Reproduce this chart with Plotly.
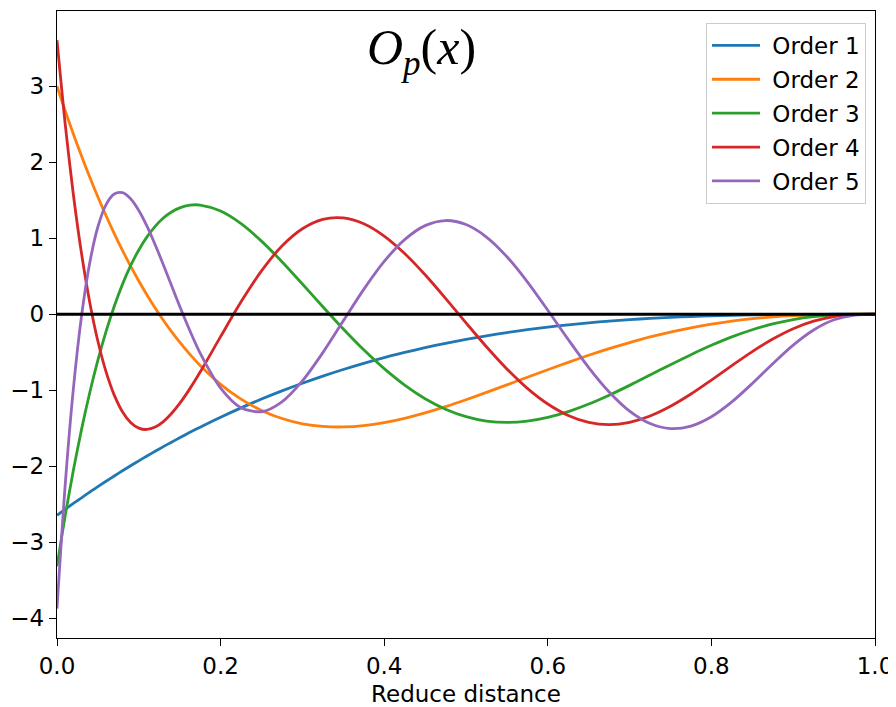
import plotly.graph_objects as go

# Reduced distance samples
x_vals = [0.0, 0.01, 0.02, 0.03, 0.04, 0.05, 0.06, 0.07, 0.08, 0.09, 0.1,
          0.11, 0.12, 0.13, 0.14, 0.15, 0.1625, 0.175, 0.2, 0.225, 0.25, 0.275, 0.3, 0.325, 0.35,
          0.375, 0.4, 0.425, 0.45, 0.475, 0.5, 0.525, 0.55, 0.575, 0.6,
          0.625, 0.65, 0.675, 0.7, 0.725, 0.75, 0.775, 0.8, 0.825, 0.85,
          0.875, 0.9, 0.925, 0.95, 0.975, 1.0]

order1 = [-2.646, -2.567, -2.490, -2.415, -2.341, -2.268, -2.198, -2.128, -2.060, -1.994, -1.929,
          -1.865, -1.803, -1.742, -1.683, -1.625, -1.554, -1.486, -1.355, -1.232, -1.116, -1.008, -0.908, -0.814, -0.727,
          -0.646, -0.571, -0.503, -0.440, -0.383, -0.331, -0.284, -0.241, -0.203, -0.169,
          -0.140, -0.113, -0.091, -0.071, -0.055, -0.041, -0.030, -0.021, -0.014, -0.009,
          -0.005, -0.003, -0.001, -0.0003, 0.0, 0.0]

order2 = [3.000, 2.678, 2.372, 2.081, 1.805, 1.543, 1.296, 1.062, 0.841, 0.633, 0.437,
          0.254, 0.082, -0.079, -0.229, -0.368, -0.529, -0.674, -0.922, -1.117, -1.266, -1.372, -1.441, -1.476, -1.483,
          -1.465, -1.426, -1.369, -1.298, -1.216, -1.125, -1.029, -0.929, -0.829, -0.730,
          -0.633, -0.540, -0.453, -0.373, -0.299, -0.234, -0.178, -0.130, -0.090, -0.059,
          -0.035, -0.019, -0.008, -0.002, -0.0003, 0.0]

order3 = [-3.317, -2.653, -2.054, -1.515, -1.033, -0.604, -0.226, 0.105, 0.393, 0.639, 0.846,
          1.018, 1.157, 1.266, 1.346, 1.400, 1.435, 1.437, 1.358, 1.192, 0.962, 0.691, 0.398, 0.099, -0.194,
          -0.468, -0.716, -0.932, -1.111, -1.249, -1.347, -1.405, -1.424, -1.407, -1.358,
          -1.282, -1.182, -1.065, -0.936, -0.800, -0.664, -0.532, -0.409, -0.298, -0.204,
          -0.128, -0.070, -0.032, -0.010, -0.001, 0.0]

order4 = [3.606, 2.506, 1.575, 0.798, 0.159, -0.356, -0.759, -1.064, -1.282, -1.423, -1.498,
          -1.516, -1.485, -1.412, -1.306, -1.174, -0.979, -0.761, -0.295, 0.163, 0.570, 0.897, 1.125, 1.249, 1.267,
          1.190, 1.028, 0.798, 0.519, 0.209, -0.113, -0.428, -0.720, -0.975, -1.181,
          -1.332, -1.423, -1.452, -1.422, -1.339, -1.211, -1.050, -0.866, -0.676, -0.492,
          -0.326, -0.190, -0.091, -0.030, -0.004, 0.0]

order5 = [-3.873, -2.249, -0.982, -0.022, 0.675, 1.151, 1.443, 1.582, 1.599, 1.520, 1.366,
          1.159, 0.915, 0.651, 0.377, 0.105, -0.218, -0.512, -0.971, -1.230, -1.283, -1.152, -0.877, -0.505, -0.087,
          0.327, 0.695, 0.982, 1.166, 1.233, 1.180, 1.016, 0.757, 0.427, 0.053,
          -0.333, -0.702, -1.023, -1.275, -1.438, -1.504, -1.471, -1.348, -1.153, -0.911,
          -0.651, -0.406, -0.207, -0.073, -0.011, 0.0]

series_names = ["Order 1", "Order 2", "Order 3", "Order 4", "Order 5"]
series_values = [order1, order2, order3, order4, order5]
colors = ["#1f77b4", "#ff7f0e", "#2ca02c", "#d62728", "#9467bd"]

x_ticks = [0.0, 0.2, 0.4, 0.6, 0.8, 1.0]
y_ticks = [-4, -3, -2, -1, 0, 1, 2, 3]

fig = go.Figure()
for i, (name, vals) in enumerate(zip(series_names, series_values)):
    fig.add_trace(go.Scatter(
        x=x_vals, y=vals, mode="lines", name="\u00a0" + name,
        legendgroup=f"g{i}",
        line=dict(color=colors[i], width=2.8, shape="spline", smoothing=0.8),
    ))

# horizontal reference line at zero
fig.add_shape(type="line", xref="paper", yref="y", x0=0, x1=1, y0=0, y1=0,
              line=dict(color="black", width=3), layer="above")

fig.add_annotation(
    text="<i>O</i><sub><i>p</i></sub>(<i>x</i>)",
    xref="paper", yref="paper", x=0.445, y=0.937,
    xanchor="center", yanchor="middle", showarrow=False,
    font=dict(family="Liberation Serif", size=50, color="black"),
)

axis_common = dict(
    showgrid=False, zeroline=False, automargin=False,
    showline=True, linecolor="black", linewidth=1.4, mirror=True,
    ticks="outside", ticklen=7, tickwidth=1.4, tickcolor="black",
    tickfont=dict(family="DejaVu Sans", size=23, color="black"),
)

# the page body adds an 8 px offset, so the figure is sized to fit inside the window
fig.update_layout(
    width=888, height=699,
    margin=dict(l=49, r=21, t=3, b=69),
    paper_bgcolor="white", plot_bgcolor="white",
    font=dict(family="DejaVu Sans", size=23, color="black"),
    showlegend=True,
    legend=dict(
        x=0.989, y=0.981, xanchor="right", yanchor="top",
        bgcolor="rgba(255,255,255,0.8)", bordercolor="#cccccc", borderwidth=1,
        font=dict(family="DejaVu Sans", size=23, color="black"),
        tracegroupgap=1, itemwidth=48,
    ),
    xaxis=dict(range=[0, 1], tickvals=x_ticks, tickformat=".1f",
               title=dict(text="Reduce distance", standoff=10,
                          font=dict(family="DejaVu Sans", size=23, color="black")),
               **axis_common),
    yaxis=dict(range=[-4.26, 3.99], tickvals=y_ticks, **axis_common),
)

fig.write_html("out.html")
